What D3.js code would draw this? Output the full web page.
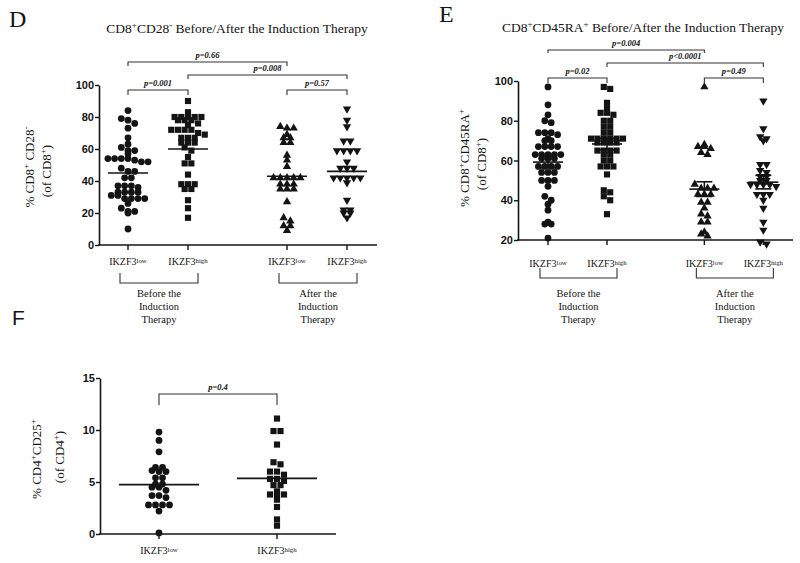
<!DOCTYPE html>
<html><head><meta charset="utf-8">
<script src="https://cdn.jsdelivr.net/npm/d3@7"></script>
<style>body{margin:0;background:#fff}</style>
</head><body><svg id="c" width="800" height="563"></svg>
<script>
// ---------------- data ----------------
const catPrefix = "IKZF3";
const catSuffixDE = ["low", "high", "low", "high"];
const catSuffixF = ["low", "high"];
const groupLabels = [["Before the", "Induction", "Therapy"], ["After the", "Induction", "Therapy"]];

const ticksD = [0, 20, 40, 60, 80, 100];
const ticksE = [20, 40, 60, 80, 100];
const ticksF = [0, 5, 10, 15];

// Panel D: CD8+CD28-
const dBeforeLow = [84, 79, 78, 76, 73, 67, 63, 61, 59, 59, 57, 54, 54, 54, 54, 53, 52, 52, 48, 46, 46, 42, 42, 37, 37, 37, 36, 33, 33, 33, 33, 31, 31, 29, 29, 29, 29, 26, 23, 21, 21, 20, 10];
const dBeforeHigh = [90, 83, 80, 80, 80, 80, 80, 78, 78, 78, 76, 75, 72, 72, 72, 72, 70, 69, 67, 67, 67, 64, 64, 64, 61, 59, 55, 51, 51, 44, 38, 38, 38, 35, 35, 28, 23, 17];
const dAfterLow = [74, 73, 73, 69, 67, 67, 64, 64, 56, 53, 49, 42, 42, 42, 42, 42, 38, 38, 38, 35, 35, 35, 27, 17, 15, 12, 12, 9];
const dAfterHigh = [85, 78, 74, 65, 65, 59, 59, 59, 59, 52, 48, 48, 48, 42, 42, 42, 42, 42, 39, 28, 22, 22, 20, 20, 17];
const dMeans = [45, 60, 43, 46];
const dPvals = ["p=0.66", "p=0.008", "p=0.001", "p=0.57"];
const dPairs = [[0, 2], [1, 3], [0, 1], [2, 3]];

// Panel E: CD8+CD45RA+
const eBeforeLow = [97, 88, 83, 80, 79, 74, 74, 74, 73, 71, 70, 70, 67, 67, 67, 67, 63, 63, 63, 63, 63, 61, 61, 61, 57, 57, 57, 57, 54, 54, 54, 50, 50, 50, 47, 42, 40, 38, 35, 29, 28, 28, 21];
const eBeforeHigh = [97, 96, 89, 86, 84, 84, 83, 80, 80, 77, 77, 74, 74, 71, 71, 71, 71, 71, 71, 69, 69, 69, 69, 65, 65, 65, 65, 63, 63, 60, 60, 57, 57, 57, 53, 45, 44, 42, 40, 33];
const eAfterLow = [97, 68, 67, 67, 66, 64, 63, 48, 46, 46, 46, 43, 43, 43, 39, 39, 36, 33, 32, 29, 29, 24, 23, 22];
const eAfterHigh = [90, 76, 72, 71, 70, 58, 58, 55, 54, 52, 52, 50, 50, 48, 48, 48, 48, 47, 43, 43, 43, 40, 36, 29, 25, 19, 18];
const eMeans = [59.2, 68.3, 45.6, 49.1];
const eSems = [2.9, 2.9, 3.7, 3.4];
const ePvals = ["p=0.004", "p<0.0001", "p=0.02", "p=0.49"];
const ePairs = [[0, 2], [1, 3], [0, 1], [2, 3]];

// Panel F: CD4+CD25+
const fLow = [9.8, 9.0, 7.9, 6.4, 6.4, 6.1, 6.0, 6.0, 5.4, 5.4, 4.8, 4.8, 4.5, 4.5, 4.2, 3.7, 3.7, 3.5, 2.8, 2.8, 2.8, 2.8, 2.2, 0.1];
const fHigh = [11.1, 9.9, 9.9, 8.6, 6.9, 6.7, 6.0, 6.0, 5.7, 5.3, 5.3, 5.1, 4.7, 4.7, 4.1, 3.8, 3.8, 3.8, 3.3, 2.6, 1.4, 0.8];
const fMeans = [4.75, 5.35];
const fPvals = ["p=0.4"];
const fPairs = [[0, 1]];

// ---------------- drawing ----------------
const svg = d3.select("#c");
const serif = "'Liberation Serif','Times New Roman',serif";
const sans = "'Liberation Sans',Arial,sans-serif";
const ink = "#141414";

function rich(g, x, y, str, o) {
  const t = g.append("text").attr("x", x).attr("y", y)
    .attr("font-family", o.family || serif).attr("font-size", o.size)
    .attr("text-anchor", o.anchor || "middle").attr("fill", ink);
  if (o.weight) t.attr("font-weight", o.weight);
  if (o.style) t.attr("font-style", o.style);
  if (o.rotate) t.attr("transform", `rotate(-90,${x},${y})`);
  const parts = str.split(/(\^\{[^}]*\})/).filter(s => s.length);
  let cur = 0;
  const sh = o.supShift || o.size * 0.38;
  parts.forEach(p => {
    const sup = p.startsWith("^{");
    const txt = sup ? p.slice(2, -1) : p;
    const target = sup ? -sh : 0;
    const ts = t.append("tspan").attr("dy", target - cur).text(txt);
    if (sup) ts.attr("font-size", o.supSize || o.size * 0.62);
    cur = target;
  });
  return t;
}

const symbols = {
  circle: { type: d3.symbolCircle, size: 36, rot: 0 },
  square: { type: d3.symbolSquare, size: 38, rot: 0 },
  up: { type: d3.symbolTriangle, size: 30, rot: 0 },
  down: { type: d3.symbolTriangle, size: 30, rot: 180 }
};

function swarm(values, y, cx, step, binH) {
  const pts = values.map(v => ({ v, py: y(v) }));
  const bins = d3.group(pts, p => Math.round(p.py / binH));
  bins.forEach(arr => arr.forEach((p, i) => { p.px = cx + (i - (arr.length - 1) / 2) * step; }));
  return pts;
}

function panel(cfg) {
  const g = svg.append("g");
  const y = d3.scaleLinear().domain(cfg.yDom).range([cfg.yBottom, cfg.yTop]);
  const x = d3.scaleLinear().domain([0, 1]).range([cfg.cx0, cfg.cx0 + cfg.unit]);
  const cx = i => x(cfg.slots[i]);

  // y axis
  const ya = g.append("g").attr("transform", `translate(${cfg.axisX},0)`)
    .call(d3.axisLeft(y).tickValues(cfg.ticks).tickSize(4).tickSizeOuter(0).tickPadding(1));
  ya.select(".domain").attr("stroke", ink).attr("stroke-width", 1.6);
  ya.selectAll(".tick line").attr("stroke", ink).attr("stroke-width", 1.4);
  ya.selectAll(".tick text").attr("font-family", sans).attr("font-weight", "bold")
    .attr("font-size", 11).attr("fill", ink);

  // x axis
  g.append("line").attr("x1", cfg.axisX - 0.8).attr("x2", cfg.xEnd)
    .attr("y1", cfg.yBottom).attr("y2", cfg.yBottom).attr("stroke", ink).attr("stroke-width", 1.6);
  cfg.series.forEach((s, i) => {
    g.append("line").attr("x1", cx(i)).attr("x2", cx(i)).attr("y1", cfg.yBottom)
      .attr("y2", cfg.yBottom + 5).attr("stroke", ink).attr("stroke-width", 1.4);
    rich(g, cx(i), cfg.yBottom + cfg.labOff, catPrefix + "^{" + cfg.cats[i] + "}",
      { size: 10, supSize: 6.8, supShift: 2.5 });
  });

  // points
  cfg.series.forEach((s, i) => {
    const sym = symbols[cfg.shapes[i]];
    const gen = d3.symbol().type(sym.type).size(sym.size);
    const pts = swarm(s, y, cx(i), cfg.step, cfg.binH);
    g.append("g").selectAll("path").data(pts).join("path")
      .attr("d", gen).attr("fill", ink)
      .attr("transform", p => `translate(${p.px},${p.py}) rotate(${sym.rot})`);
  });

  // means / sem
  cfg.means.forEach((m, i) => {
    const c = cx(i);
    g.append("line").attr("x1", c - cfg.meanW).attr("x2", c + cfg.meanW)
      .attr("y1", y(m)).attr("y2", y(m)).attr("stroke", ink).attr("stroke-width", 1.6);
    if (cfg.sems) {
      const s = cfg.sems[i];
      g.append("line").attr("x1", c).attr("x2", c).attr("y1", y(m - s)).attr("y2", y(m + s))
        .attr("stroke", ink).attr("stroke-width", 1.6);
      [m - s, m + s].forEach(v => g.append("line").attr("x1", c - cfg.capW).attr("x2", c + cfg.capW)
        .attr("y1", y(v)).attr("y2", y(v)).attr("stroke", ink).attr("stroke-width", 1.6));
    }
  });

  // significance brackets
  cfg.pairs.forEach((pr, k) => {
    const x1 = cx(pr[0]), x2 = cx(pr[1]), by = cfg.bracketY[k], bt = cfg.bracketT[k];
    g.append("path").attr("d", `M${x1},${by + bt}V${by}H${x2}V${by + bt}`)
      .attr("fill", "none").attr("stroke", "#333").attr("stroke-width", 1.1);
    rich(g, (x1 + x2) / 2, by - 4, cfg.pvals[k], { size: 8.5, weight: "bold", style: "italic" });
  });

  // group brackets
  if (cfg.groups) {
    cfg.groups.forEach((lines, gi) => {
      const a = cx(gi * 2) - 8, b = cx(gi * 2 + 1) + 10, top = cfg.yBottom + 28, bot = cfg.yBottom + 38;
      g.append("path").attr("d", `M${a},${top}V${bot}H${b}V${top}`)
        .attr("fill", "none").attr("stroke", "#333").attr("stroke-width", 1.1);
      lines.forEach((ln, li) => rich(g, (a + b) / 2, cfg.groupY + li * 13, ln, { size: 10.5 }));
    });
  }

  // y label
  rich(g, cfg.ylab[0].x, cfg.ylab[0].y, cfg.ylab[0].t, { size: 13, rotate: true, supShift: 5, supSize: 9 });
  rich(g, cfg.ylab[1].x, cfg.ylab[1].y, cfg.ylab[1].t, { size: 13, rotate: true, supShift: 5, supSize: 9 });

  // title and letter
  if (cfg.title) rich(g, cfg.title.x, cfg.title.y, cfg.title.t, { size: 13.5, supShift: 5, supSize: 9 });
  g.append("text").attr("x", cfg.letter.x).attr("y", cfg.letter.y).attr("font-family", cfg.letter.family)
    .attr("font-size", cfg.letter.size).attr("fill", ink).text(cfg.letter.t);
}

panel({
  yDom: [0, 100], yBottom: 245, yTop: 85, ticks: ticksD, axisX: 99, xEnd: 377,
  cx0: 128, unit: 60, slots: [0, 1, 2.65, 3.65], cats: catSuffixDE, labOff: 20,
  series: [dBeforeLow, dBeforeHigh, dAfterLow, dAfterHigh], shapes: ["circle", "square", "up", "down"],
  step: 6.7, binH: 5.5, means: dMeans, meanW: 20,
  pairs: dPairs, pvals: dPvals, bracketY: [62, 75, 90, 90], bracketT: [4, 4, 5, 5],
  groups: groupLabels, groupY: 297,
  ylab: [{ x: 34, y: 167, t: "% CD8^{+} CD28^{-}" }, { x: 51, y: 171, t: "(of CD8^{+})" }],
  title: { x: 237, y: 33, t: "CD8^{+}CD28^{-} Before/After the Induction Therapy" },
  letter: { x: 9, y: 27, t: "D", size: 24, family: serif }
});

panel({
  yDom: [20, 100], yBottom: 240, yTop: 81, ticks: ticksE, axisX: 518, xEnd: 793,
  cx0: 548, unit: 59, slots: [0, 1, 2.65, 3.65], cats: catSuffixDE, labOff: 27,
  series: [eBeforeLow, eBeforeHigh, eAfterLow, eAfterHigh], shapes: ["circle", "square", "up", "down"],
  step: 6.4, binH: 5.5, means: eMeans, sems: eSems, meanW: 15, capW: 8,
  pairs: ePairs, pvals: ePvals, bracketY: [50, 63, 78, 78], bracketT: [3, 4, 5, 5],
  groups: groupLabels, groupY: 297,
  ylab: [{ x: 469, y: 158, t: "%  CD8^{+}CD45RA^{+}" }, { x: 486, y: 164, t: "(of CD8^{+})" }],
  title: { x: 643, y: 32, t: "CD8^{+}CD45RA^{+} Before/After the Induction Therapy" },
  letter: { x: 439, y: 22, t: "E", size: 24, family: serif }
});

panel({
  yDom: [0, 15], yBottom: 534, yTop: 378, ticks: ticksF, axisX: 100, xEnd: 336,
  cx0: 159, unit: 118, slots: [0, 1], cats: catSuffixF, labOff: 20,
  series: [fLow, fHigh], shapes: ["circle", "square"],
  step: 7, binH: 5.5, means: fMeans, meanW: 40,
  pairs: fPairs, pvals: fPvals, bracketY: [394], bracketT: [11],
  ylab: [{ x: 41, y: 459, t: "% CD4^{+}CD25^{+}" }, { x: 64, y: 457, t: "(of CD4^{+})" }],
  letter: { x: 12, y: 325, t: "F", size: 21, family: sans }
});
</script></body></html>
